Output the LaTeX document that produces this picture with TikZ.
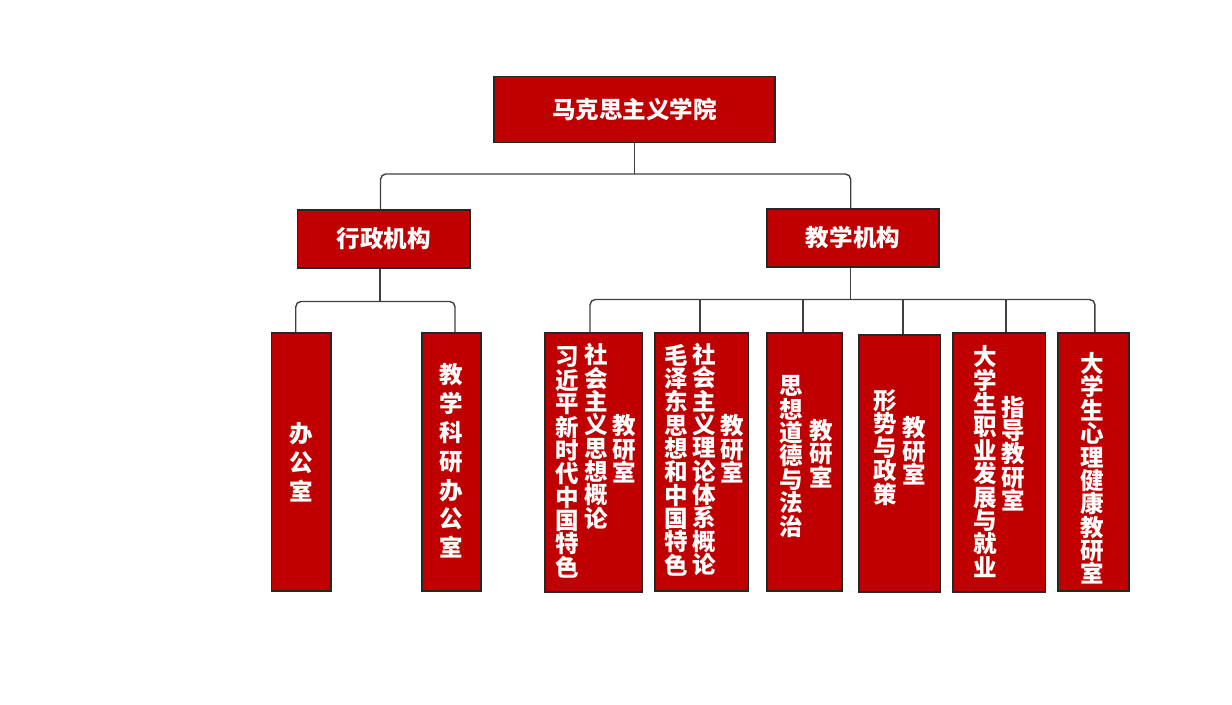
\documentclass[tikz,border=0pt]{standalone}
\usepackage{fontspec}
\setmainfont{Noto Sans CJK SC}
\usepackage{tikz}
\definecolor{unitred}{RGB}{192,0,0}

\begin{document}
\begin{tikzpicture}[x=0.02cm,y=-0.02cm,
		unit/.style={draw=black!85,fill=unitred,line width=0.8pt,inner sep=0pt},
		txt/.style={text=white,align=center,inner sep=0pt,
			font=\bfseries\fontsize{13.4pt}{13.3pt}\selectfont},
		txtwide/.style={txt,font=\bfseries\fontsize{13.4pt}{16.4pt}\selectfont},
		link/.style={draw=black!75,line width=0.8pt,rounded corners=3pt}]
		\useasboundingbox (0,0) rectangle (1232,705);
%		top levels
		\node[unit,txt,minimum width=5.62cm,minimum height=1.32cm] (top) at (634.5,109.5) {马克思主义学院};
		\node[unit,txt,minimum width=3.45cm,minimum height=1.16cm] (xz) at (383.7,239) {行政机构};
		\node[unit,txt,minimum width=3.44cm,minimum height=1.16cm] (jx) at (853,238) {教学机构};
%		offices
		\node[unit,minimum width=1.19cm,minimum height=5.16cm] (bg) at (301.4,462) {};
		\node[unit,minimum width=1.18cm,minimum height=5.16cm] (ky) at (451.5,462) {};
		\node[txtwide] (bgt) at (301.7,462.5) {办\\公\\室};
		\node[txtwide] (kyt) at (451.7,461) {教\\学\\科\\研\\办\\公\\室};
%		teaching sections
		\node[unit,minimum width=1.95cm,minimum height=5.18cm] (b1) at (593.9,462.5) {};
		\node[unit,minimum width=1.87cm,minimum height=5.16cm] (b2) at (701.9,462) {};
		\node[unit,minimum width=1.50cm,minimum height=5.16cm] (b3) at (804.5,462) {};
		\node[unit,minimum width=1.63cm,minimum height=5.14cm] (b4) at (899.9,463.5) {};
		\node[unit,minimum width=1.85cm,minimum height=5.18cm] (b5) at (999.4,462.5) {};
		\node[unit,minimum width=1.42cm,minimum height=5.16cm] (b6) at (1093.5,462) {};
		
		\node[txt] (b1a) at (567.5,462.5) {习\\近\\平\\新\\时\\代\\中\\国\\特\\色};
		\node[txt] (b1b) at (596.7,436.5) {社\\会\\主\\义\\思\\想\\概\\论};
		\node[txt] (b1c) at (624,449) {教\\研\\室};
		
		\node[txt] (b2a) at (675.8,460) {毛\\泽\\东\\思\\想\\和\\中\\国\\特\\色};
		\node[txt] (b2b) at (704,459.5) {社\\会\\主\\义\\理\\论\\体\\系\\概\\论};
		\node[txt] (b2c) at (732,449) {教\\研\\室};
		
		\node[txt] (b3a) at (791.7,456.5) {思\\想\\道\\德\\与\\法\\治};
		\node[txt] (b3b) at (821,453.5) {教\\研\\室};
		
		\node[txt] (b4a) at (885,447.5) {形\\势\\与\\政\\策};
		\node[txt] (b4b) at (914,451) {教\\研\\室};
		
		\node[txt] (b5a) at (985,461.5) {大\\学\\生\\职\\业\\发\\展\\与\\就\\业};
		\node[txt] (b5b) at (1013,453.5) {指\\导\\教\\研\\室};
		
		\node[txt] (b6a) at (1092,468.5) {大\\学\\生\\心\\理\\健\\康\\教\\研\\室};
%		connectors
		\coordinate (busT) at (634.5,174);
		\coordinate (busL) at (380,301.5);
		\coordinate (busR) at (850.7,299.5);
		\draw[link] (top.south) -- (busT);
		\draw[link] ([xshift=-1.8pt]xz.north) |- (busT) -| ([xshift=-1.3pt]jx.north);
		
		\draw[link] (busL) -- (busL |- xz.south);
		\draw[link] ([xshift=-3.2pt]bg.north) |- (busL) -| ([xshift=2pt]ky.north);
		
		\draw[link] (busR) -- (busR |- jx.south);
		\draw[link] ([xshift=-2.2pt]b1.north) |- (busR) -| ([xshift=0.8pt]b6.north);
		\draw[link] ([xshift=-1.1pt]b2.north) -- ([xshift=-1.1pt]b2.north |- busR);
		\draw[link] ([xshift=-0.8pt]b3.north) -- ([xshift=-0.8pt]b3.north |- busR);
		\draw[link] ([xshift=1.8pt]b4.north) -- ([xshift=1.8pt]b4.north |- busR);
		\draw[link] ([xshift=3.7pt]b5.north) -- ([xshift=3.7pt]b5.north |- busR);
	\end{tikzpicture}
\end{document}
